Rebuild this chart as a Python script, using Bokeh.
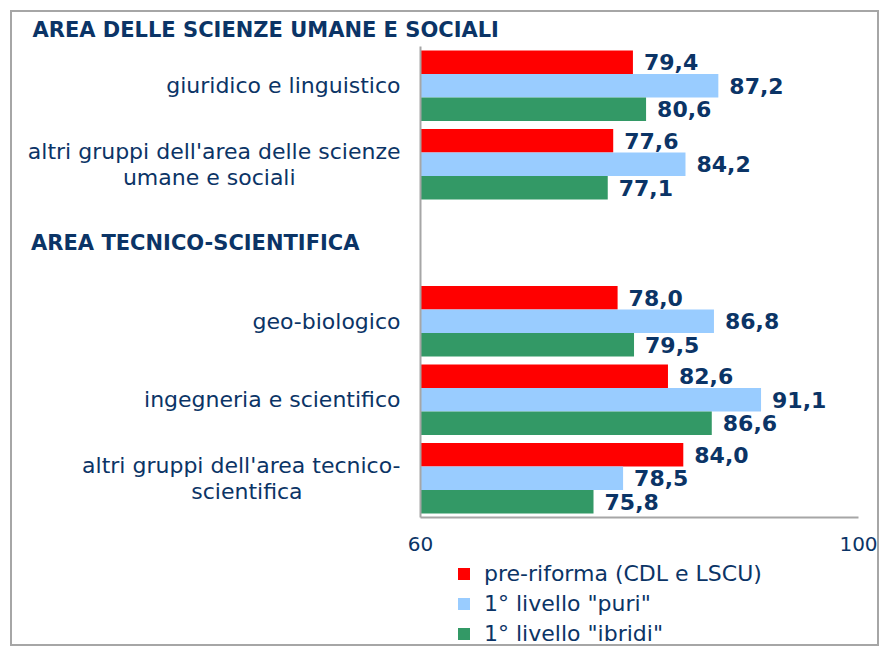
from bokeh.plotting import figure
from bokeh.layouts import column
from bokeh.models import (FixedTicker, Legend, LegendItem, ColumnDataSource,
                          Range1d, LinearAxis)
from bokeh.transform import dodge
from bokeh.embed import file_html
from bokeh.resources import INLINE

# ---------------- data ----------------
groups = ["AREA DELLE SCIENZE UMANE E SOCIALI", "AREA TECNICO-SCIENTIFICA"]
categories = [
    ["giuridico e linguistico"],
    ["altri gruppi dell'area delle scienze", "umane e sociali"],
    ["geo-biologico"],
    ["ingegneria e scientifico"],
    ["altri gruppi dell'area tecnico-", "scientifica"],
]
category_group = [0, 0, 1, 1, 1]
series_names = ['pre-riforma (CDL e LSCU)', '1° livello "puri"', '1° livello "ibridi"']
pre_riforma = [79.4, 77.6, 78.0, 82.6, 84.0]
puri = [87.2, 84.2, 86.8, 91.1, 78.5]
ibridi = [80.6, 77.1, 79.5, 86.6, 75.8]
x_ticks = [60, 100]

# ---------------- styling ----------------
FONT = "DejaVu Sans"
NAVY = "#0b3466"
GREY = "#a6a6a6"
colors = ["#ff0000", "#99ccff", "#339966"]
NBSP = "\u00a0"

# rows from top: header, categories of group, header, categories ...
row = 0
header_rows = []
cat_rows = []
for g in range(len(groups)):
    header_rows.append(row)
    row += 1
    for i, cg in enumerate(category_group):
        if cg == g:
            cat_rows.append(row)
            row += 1
n_rows = row
cat_y = [n_rows - r for r in cat_rows]
header_y = [n_rows - r for r in header_rows]


def centred(lines):
    # lines of a right-aligned tick label are centred under the first one
    if len(lines) == 1:
        return lines[0]
    first = lines[0]
    out = [first]
    for ln in lines[1:]:
        pad = round((len(first) - len(ln)) / 2 * 1.42)
        out.append(ln + NBSP * pad)
    return "\n".join(out)


def fmt(v):
    return f"{v:.1f}".replace(".", ",")


source = ColumnDataSource(dict(
    y=cat_y,
    pre=pre_riforma, puri=puri, ibridi=ibridi,
    pre_l=[fmt(v) for v in pre_riforma],
    puri_l=[fmt(v) for v in puri],
    ibridi_l=[fmt(v) for v in ibridi],
))

p = figure(width=869, height=550, output_backend="svg", toolbar_location=None,
           x_range=Range1d(x_ticks[0], x_ticks[-1]),
           y_range=Range1d(0.5, n_rows - 0.5),
           min_border_left=410, min_border_right=21,
           min_border_top=35, min_border_bottom=43)
p.outline_line_color = None
p.grid.visible = False
p.background_fill_color = "white"
p.border_fill_color = None

# top group header as title
p.title.text = groups[0]
p.title.align = "left"
p.title.offset = -388
p.title.standoff = 10
p.title.text_font = FONT
p.title.text_font_size = "21px"
p.title.text_font_style = "bold"
p.title.text_color = NAVY

fields = ["pre", "puri", "ibridi"]
offsets = [0.3, 0.0, -0.3]
renderers = []
for f, off, c in zip(fields, offsets, colors):
    r = p.hbar(y=dodge("y", off, range=p.y_range), left=x_ticks[0], right=f,
               height=0.3, fill_color=c, line_color=None, source=source)
    renderers.append(r)
    p.text(x=f, y=dodge("y", off, range=p.y_range), text=f + "_l", source=source,
           x_offset=11, text_baseline="middle", text_align="left",
           text_font={"value": FONT}, text_font_style="bold",
           text_font_size="22px", text_color=NAVY)

# x axis
p.xaxis.ticker = FixedTicker(ticks=x_ticks)
p.xaxis.major_tick_line_color = None
p.xaxis.major_tick_out = 0
p.xaxis.minor_tick_line_color = None
p.xaxis.axis_line_color = GREY
p.xaxis.axis_line_width = 2
p.xaxis.major_label_standoff = 19
p.xaxis.major_label_text_font = FONT
p.xaxis.major_label_text_font_size = "20px"
p.xaxis.major_label_text_color = NAVY

# y axis with category labels
p.yaxis.ticker = FixedTicker(ticks=cat_y)
p.yaxis.major_label_overrides = {y: centred(lab) for y, lab in zip(cat_y, categories)}
p.yaxis.major_tick_line_color = None
p.yaxis.major_tick_out = 0
p.yaxis.minor_tick_line_color = None
p.yaxis.axis_line_color = GREY
p.yaxis.axis_line_width = 2
p.yaxis.major_label_standoff = 20
p.yaxis.major_label_text_font = FONT
p.yaxis.major_label_text_font_size = "22px"
p.yaxis.major_label_text_color = NAVY
p.yaxis.major_label_text_line_height = 1.04

# second group header: an outer label-only axis whose label reaches back inwards
hdr = LinearAxis(ticker=FixedTicker(ticks=header_y[1:]),
                 major_label_overrides={y: NBSP * 2 + g
                                        for y, g in zip(header_y[1:], groups[1:])},
                 axis_line_color=None, major_tick_line_color=None,
                 minor_tick_line_color=None, major_tick_out=0,
                 major_label_standoff=-335,
                 major_label_text_font=FONT, major_label_text_font_size="21px",
                 major_label_text_font_style="bold", major_label_text_color=NAVY)
p.add_layout(hdr, "left")

# legend strip below the chart (its frame lines up with the chart's frame)
q = figure(width=869, height=86, output_backend="svg", toolbar_location=None,
           title=None, x_range=Range1d(0, 1), y_range=Range1d(0, 1),
           x_axis_location=None, y_axis_location=None,
           min_border_left=0, min_border_right=0,
           min_border_top=0, min_border_bottom=0)
q.grid.visible = False
q.outline_line_color = None
q.background_fill_color = None
q.border_fill_color = None
# legend keys: one zero-length bar each, parked outside the strip's view
keys = [q.hbar(y=[-1], right=[0], left=0, height=0.3, fill_color=c, line_color=None)
        for c in colors]
legend = Legend(items=[LegendItem(label=n, renderers=[r])
                       for n, r in zip(series_names, keys)],
                location=(36, 0), orientation="vertical",
                glyph_width=15, glyph_height=15, label_standoff=13,
                spacing=5, padding=0, margin=0,
                border_line_color=None, background_fill_alpha=0,
                label_text_font=FONT, label_text_font_size="22px",
                label_text_color=NAVY)
q.add_layout(legend)

page = column(p, q, spacing=0,
              styles={"outline": f"2px solid {GREY}", "outline-offset": "-2px",
                      "margin-left": "10px", "margin-top": "10px",
                      "background-color": "white"})

open("out.html", "w").write(file_html(page, INLINE))
